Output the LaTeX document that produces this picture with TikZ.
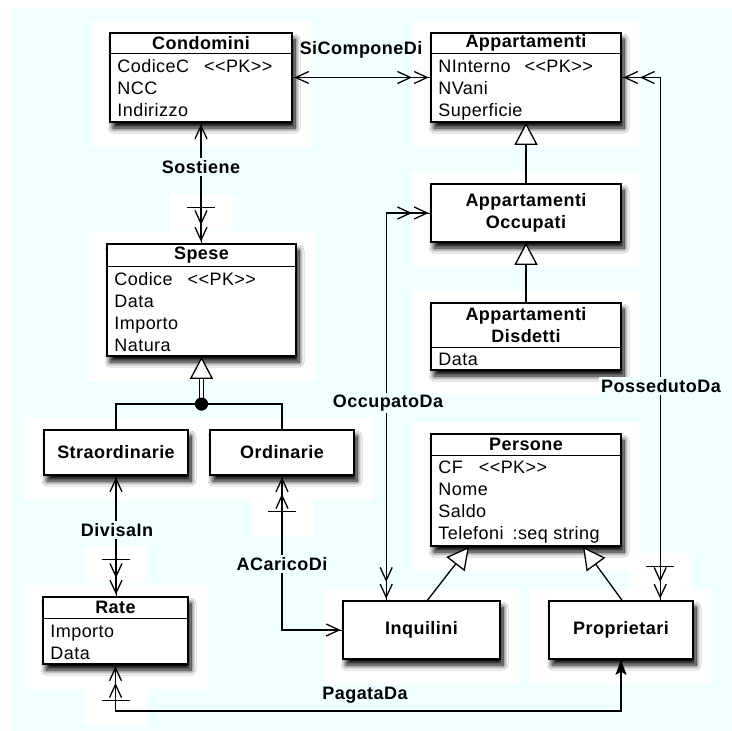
\documentclass[tikz,border=0pt]{standalone}
\usepackage{fontspec}
\setmainfont{Liberation Sans}[LetterSpace=2.5]
\usetikzlibrary{arrows.meta,calc,shadows.blur,backgrounds}
\definecolor{bgc}{RGB}{240,255,255}
\tikzset{
  >={Straight Barb[length=13pt,width=12pt,sep=1.5pt]},
  conn/.style={line width=1.3pt, black},
  full/.style={preaction={draw, arrows=-}},
  cls/.style={draw, line width=1.6pt, fill=white, inner sep=0pt,
    blur shadow={shadow xshift=3pt, shadow yshift=-6pt, shadow blur radius=5pt, shadow blur steps=12, shadow opacity=100}},
  ttl/.style={font=\fontsize{18}{22}\selectfont\bfseries, inner sep=0pt, align=center},
  boxtext/.style={cls, font=\fontsize{18}{22}\selectfont\bfseries, align=center},
  attr/.style={font=\fontsize{18}{22}\selectfont, inner sep=0pt, anchor=base west},
  lbl/.style={font=\fontsize{18}{22}\selectfont\bfseries, inner sep=2pt},
  lblf/.style={lbl, fill=bgc},
  gen/.style={conn, -{Triangle[fill=white, length=22pt, width=23pt]}},
}
\newcommand\umlclass[7]{%
  \node[cls, minimum width=#4pt, minimum height=#5pt] (#1) at (#2,-#3) {};
  \draw[line width=1.3pt] ($(#1.north west)+(0,-#6)$) -- ($(#1.north east)+(0,-#6)$);
  \node[ttl] (#1-t) at ($(#1.north)+(0,-#6/2)$) {#7};
}
\newcommand\attrs[3]{%
  \foreach \a [count=\i] in {#3} {
    \node[attr] (#1-a\i) at ($(#1.north west)+(8,-#2-19-22*\i+22)$) {\a};
  }
}
\newcommand\xbar[1]{\draw[conn] ($(#1)+(-14,0)$) -- ($(#1)+(14,0)$);}
\newcommand\halo[1]{\fill[white] ($(#1.south west)+(-18,-24)$) rectangle ($(#1.north east)+(18,11)$);}
\newcommand\xhalo[1]{\fill[white] ($(#1)+(-31,13)$) rectangle ($(#1)+(32,-24)$);}
\begin{document}
\begin{tikzpicture}[x=1pt,y=1pt]
\useasboundingbox (0,0) rectangle (732,-731);

% classes
\umlclass{condomini}{201}{77.5}{182}{89}{21}{Condomini}
\attrs{condomini}{21}{CodiceC\hspace{15pt}{<}{<}PK{>}{>}, NCC, Indirizzo}
\umlclass{appart}{526}{77.5}{190}{89}{21}{Appartamenti}
\attrs{appart}{21}{NInterno\hspace{14pt}{<}{<}PK{>}{>}, NVani, Superficie}
\node[boxtext, minimum width=190pt, minimum height=58pt] (appocc) at (526,-213) {Appartamenti\\Occupati};
\umlclass{appdis}{526}{336.5}{190}{67}{45}{Appartamenti\\Disdetti}
\attrs{appdis}{44}{Data}
\umlclass{persone}{526}{490}{190}{112}{22}{Persone}
\attrs{persone}{21}{CF\hspace{16pt}{<}{<}PK{>}{>}, Nome, Saldo, Telefoni\hspace{9pt}:seq string}
\umlclass{spese}{201.5}{300}{189}{112}{23}{Spese}
\attrs{spese}{23}{Codice\hspace{15pt}{<}{<}PK{>}{>}, Data, Importo, Natura}
\node[boxtext, minimum width=144pt, minimum height=45pt] (straord) at (116,-452.5) {Straordinarie};
\node[boxtext, minimum width=144pt, minimum height=45pt] (ordin) at (282,-452.5) {Ordinarie};
\umlclass{rate}{115.5}{630.5}{145}{67}{22}{Rate}
\attrs{rate}{22}{Importo, Data}
\node[boxtext, minimum width=157pt, minimum height=58pt] (inquilini) at (421.5,-630) {Inquilini};
\node[boxtext, minimum width=144pt, minimum height=58pt] (propr) at (621,-630) {Proprietari};

% generalizations
\draw[gen] (appocc.north) -- (appart.south);
\draw[gen] (appdis.north) -- (appocc.south);
\draw[gen] ($(inquilini.north)+(6,0)$) -- ($(persone.south)+(-57,0)$);
\draw[gen] ($(propr.north)+(1,0)$) -- ($(persone.south)+(57,0)$);

\coordinate (gbase) at ($(spese.south)+(0,-22)$);
\node[circle, fill=black, inner sep=0pt, minimum size=13pt] (dot) at (201.5,-404) {};
\draw[conn] (straord.north) |- (dot) -| (ordin.north);
\draw[line width=1.1pt, double, double distance=2.4pt] (dot.center) -- (gbase);
\node[circle, fill=black, inner sep=0pt, minimum size=13pt] (dot2) at (dot) {};
\draw[gen] (gbase) -- (spese.south);

% associations
\draw[conn, full, <->>] (condomini.east) -- (appart.west);
\node[lbl] (lsc) at (361,-50) {SiComponeDi};

\coordinate (sosend) at (condomini.south |- spese.north);
\coordinate (sosx) at ($(sosend)+(0,36)$);
\draw[conn, full, <->>] (condomini.south) -- (sosend);
\node[lblf] (lsos) at (201,-167) {Sostiene};

\coordinate (occend) at ($(inquilini.north west)+(44,0)$);
\draw[conn, full, <<->>] (appocc.west) -| (occend);
\node[lblf] (locc) at (388,-403) {OccupatoDa};

\coordinate (posend) at ($(propr.north west)+(112,0)$);
\coordinate (posx) at ($(posend)+(0,34)$);
\draw[conn, full, <<->>] (appart.east) -| (posend);
\node[lblf] (lpos) at (661,-386) {PossedutoDa};

\coordinate (divend) at (straord.south |- rate.north);
\coordinate (divx) at ($(divend)+(0,37)$);
\draw[conn, full, <->>] (straord.south) -- (divend);
\node[lblf] (ldiv) at (117,-530) {DivisaIn};

\coordinate (acx) at ($(ordin.south)+(0,-36)$);
\draw[conn, full, <<->] (ordin.south) |- (inquilini.west);
\node[lblf] (lac) at (282,-564) {ACaricoDi};

\coordinate (pagx) at ($(rate.south)+(0,-36)$);
\draw[conn, full, <<-{Stealth[length=15pt,width=11pt,inset=3pt]}] (rate.south) -- ++(0,-46) -| (propr.south);
\node[lbl] (lpag) at (365,-695) {PagataDa};

\xbar{sosx}
\xbar{posx}
\xbar{divx}
\xbar{acx}
\xbar{pagx}

\begin{scope}[on background layer]
  \fill[white] (0,0) rectangle (732,-731);
  \fill[bgc] (11,-8) rectangle (732,-731);
  \halo{condomini}\halo{appart}\halo{appocc}\halo{appdis}\halo{persone}
  \halo{spese}\halo{straord}\halo{ordin}\halo{rate}\halo{inquilini}\halo{propr}
  \xhalo{sosx}\xhalo{posx}\xhalo{divx}\xhalo{acx}\xhalo{pagx}
\end{scope}
\end{tikzpicture}
\end{document}
